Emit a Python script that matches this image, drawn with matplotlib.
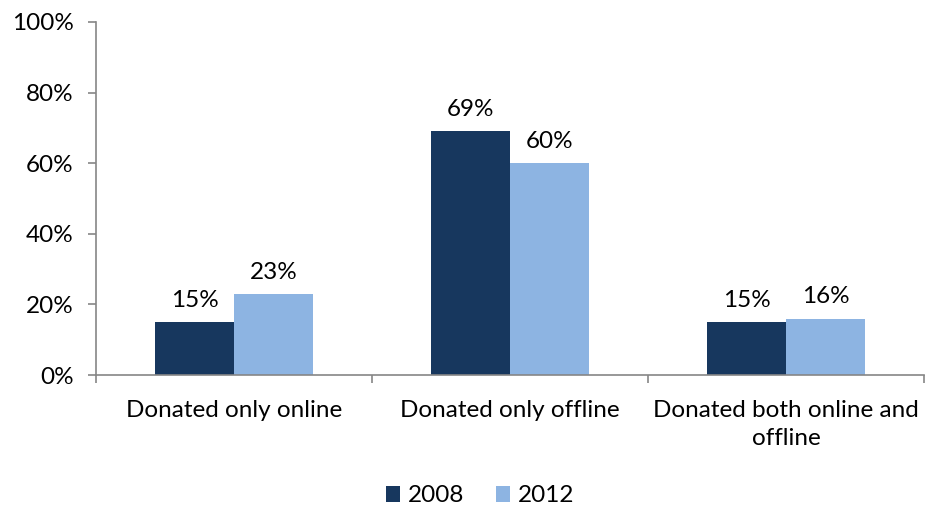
import matplotlib.pyplot as plt
import numpy as np

plt.rcParams['font.family'] = ['Lato', 'DejaVu Sans']

categories = ['Donated only online', 'Donated only offline', 'Donated both online and\noffline']
years = ['2008', '2012']
share_2008 = [15, 69, 15]
share_2012 = [23, 60, 16]

colors = ['#17375E', '#8DB4E2']
grey = '#868686'
fs = 17.5

fig = plt.figure(figsize=(9.25, 5.08), dpi=100)
ax = fig.add_axes([96 / 925, 133 / 508, 828 / 925, 353 / 508])

x = np.arange(len(categories))
w = 0.286
for i, (vals, year) in enumerate(zip([share_2008, share_2012], years)):
    pos = x + (i - 0.5) * w
    ax.bar(pos, vals, width=w, color=colors[i], label=year)
    for px, v in zip(pos, vals):
        ax.annotate(f'{v}%', (px, v), xytext=(0, 8), textcoords='offset points',
                    ha='center', va='bottom', fontsize=fs)

ax.set_xlim(-0.5, 2.5)
ax.set_ylim(0, 100)
ax.set_yticks(np.arange(0, 101, 20))
ax.set_yticklabels([f'{t}%' for t in range(0, 101, 20)], fontsize=fs)

# boundaries between groups carry the tick marks, names sit at centres
ax.set_xticks(np.arange(-0.5, 2.6, 1))
ax.set_xticklabels([])
ax.set_xticks(x, minor=True)
ax.set_xticklabels(categories, minor=True, fontsize=fs, linespacing=1.4)
ax.tick_params(axis='x', which='minor', length=0, pad=18)
ax.tick_params(axis='x', which='major', length=6, color=grey, width=1.2)
ax.tick_params(axis='y', length=6, color=grey, width=1.2, pad=10)

for s in ['top', 'right']:
    ax.spines[s].set_visible(False)
for s in ['left', 'bottom']:
    ax.spines[s].set_color(grey)
    ax.spines[s].set_linewidth(1.2)

fig.legend(loc='center', bbox_to_anchor=(480 / 925, 1 - 496 / 508), ncol=2,
           frameon=False, fontsize=fs, handlelength=0.6, handleheight=0.6,
           handletextpad=0.3, columnspacing=1.3)

fig.savefig('out.png', dpi=100)
